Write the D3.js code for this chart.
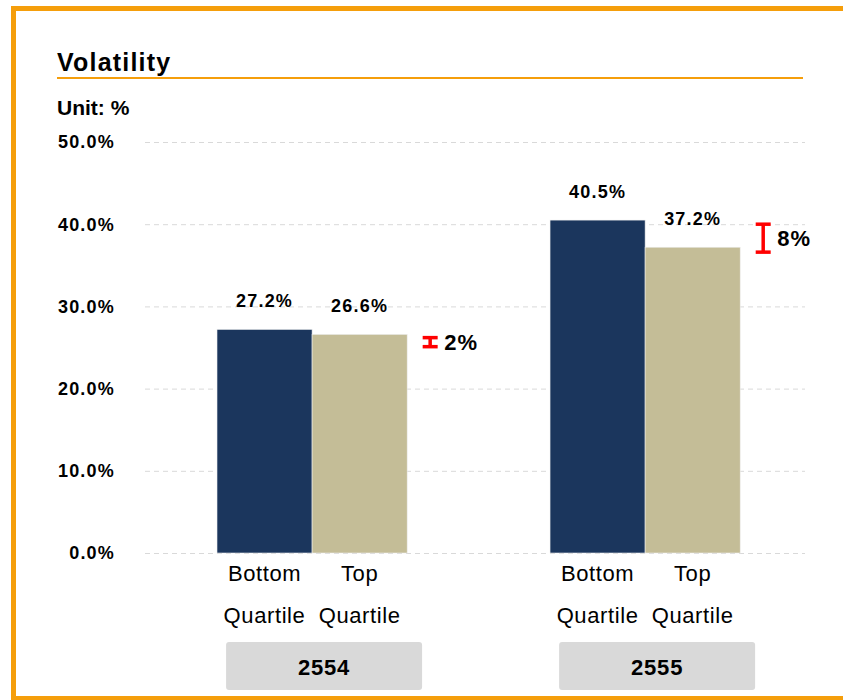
<!DOCTYPE html>
<html>
<head>
<meta charset="utf-8">
<script src="https://cdn.jsdelivr.net/npm/d3@7"></script>
<style>
  body { margin: 0; background: #fff; }
  text { font-family: Arial, "Liberation Sans", sans-serif; }
</style>
</head>
<body>
<svg id="chart" width="843" height="700"></svg>
<script>
// data
const years = ["2554", "2555"]
const quartiles = ["Bottom Quartile", "Top Quartile"]
const bottomValues = [27.2, 40.5]
const topValues = [26.6, 37.2]
const gapLabels = ["2%", "8%"]
// red marker range (in %)
const gapLow = [25.1, 36.6]
const gapHigh = [26.2, 40.0]
const yTicks = [0, 10, 20, 30, 40, 50]

const palette = { "Bottom Quartile": "#1b365d", "Top Quartile": "#c4bd97" }
const orange = "#f59e0b"

const svg = d3.select("#chart")

// frame
svg.append("rect")
    .attr("x", 13.5).attr("y", 8.5)
    .attr("width", 860).attr("height", 690)
    .attr("fill", "none")
    .attr("stroke", orange)
    .attr("stroke-width", 5)

// title
svg.append("text")
    .attr("x", 57).attr("y", 71)
    .attr("font-size", 25).attr("font-weight", "bold")
    .attr("letter-spacing", 1.2)
    .text("Volatility")
svg.append("line")
    .attr("x1", 57).attr("x2", 803)
    .attr("y1", 78).attr("y2", 78)
    .attr("stroke", orange).attr("stroke-width", 2)
svg.append("text")
    .attr("x", 57).attr("y", 115)
    .attr("font-size", 21).attr("font-weight", "bold")
    .text("Unit: %")

// scales
const yScale = d3.scaleLinear().domain([0, 50]).range([553, 142])
const x0 = d3.scaleBand().domain(years)
    .range([183.7, 773.5])
    .paddingInner(0.429)
    .paddingOuter(0.1)
const x1 = d3.scaleBand().domain(quartiles).range([0, x0.bandwidth()])

// gridlines + y labels
const grid = svg.append("g").attr("transform", "translate(145,0)")
grid.call(d3.axisLeft(yScale).tickValues(yTicks).tickSize(-660).tickFormat(""))
grid.select(".domain").remove()
grid.selectAll(".tick line")
    .attr("stroke", "#d9d9d9")
    .attr("stroke-dasharray", "5,4")

svg.append("g").selectAll("text")
    .data(yTicks)
    .join("text")
    .attr("x", 115)
    .attr("y", d => yScale(d))
    .attr("dy", "0.35em")
    .attr("text-anchor", "end")
    .attr("font-size", 18).attr("font-weight", "bold")
    .attr("letter-spacing", 1.2)
    .text(d => d.toFixed(1) + "%")

// bars
const rows = years.map((y, i) => ({
    year: y,
    values: [
        { q: quartiles[0], v: bottomValues[i] },
        { q: quartiles[1], v: topValues[i] }
    ]
}))

const groups = svg.selectAll(".yearGroup")
    .data(rows)
    .join("g")
    .attr("class", "yearGroup")
    .attr("transform", d => `translate(${x0(d.year)},0)`)

groups.selectAll("rect")
    .data(d => d.values)
    .join("rect")
    .attr("x", d => x1(d.q))
    .attr("width", x1.bandwidth())
    .attr("y", d => yScale(d.v))
    .attr("height", d => yScale(0) - yScale(d.v))
    .attr("fill", d => palette[d.q])
    .attr("stroke", "#eeeeee")
    .attr("stroke-width", 0.6)

// value labels
groups.selectAll(".valueLabel")
    .data(d => d.values)
    .join("text")
    .attr("class", "valueLabel")
    .attr("x", d => x1(d.q) + x1.bandwidth() / 2)
    .attr("y", d => yScale(d.v) - 22)
    .attr("text-anchor", "middle")
    .attr("font-size", 18).attr("font-weight", "bold")
    .attr("letter-spacing", 1.2)
    .text(d => d.v.toFixed(1) + "%")

// category labels (two lines)
groups.selectAll(".catLabel")
    .data(d => d.values)
    .join("text")
    .attr("class", "catLabel")
    .attr("text-anchor", "middle")
    .attr("font-size", 22)
    .attr("letter-spacing", 0.6)
    .each(function (d) {
        const cx = x1(d.q) + x1.bandwidth() / 2
        d.q.split(" ").forEach((w, k) => {
            d3.select(this).append("tspan")
                .attr("x", cx)
                .attr("y", 581 + k * 42)
                .text(w)
        })
    })

// year boxes
const boxW = 196
groups.append("rect")
    .attr("x", x0.bandwidth() / 2 + 12 - boxW / 2)
    .attr("y", 642)
    .attr("width", boxW).attr("height", 48)
    .attr("rx", 3)
    .attr("fill", "#d9d9d9")
groups.append("text")
    .attr("x", x0.bandwidth() / 2 + 12)
    .attr("y", 675)
    .attr("text-anchor", "middle")
    .attr("font-size", 22).attr("font-weight", "bold")
    .attr("letter-spacing", 0.8)
    .text(d => d.year)

// red gap markers
const capW = 15
groups.each(function (d, i) {
    const g = d3.select(this)
    const cx = x0.bandwidth() + 23
    const yHi = yScale(gapHigh[i])
    const yLo = yScale(gapLow[i])
    g.append("line")
        .attr("x1", cx).attr("x2", cx)
        .attr("y1", yHi).attr("y2", yLo)
        .attr("stroke", "red").attr("stroke-width", 3.5)
    ;[yHi, yLo].forEach(yy => {
        g.append("line")
            .attr("x1", cx - capW / 2).attr("x2", cx + capW / 2)
            .attr("y1", yy).attr("y2", yy)
            .attr("stroke", "red").attr("stroke-width", 3.5)
    })
    g.append("text")
        .attr("x", cx + 14)
        .attr("y", (yHi + yLo) / 2)
        .attr("dy", "0.35em")
        .attr("font-size", 22).attr("font-weight", "bold")
        .attr("letter-spacing", 1)
        .text(gapLabels[i])
})
</script>
</body>
</html>
